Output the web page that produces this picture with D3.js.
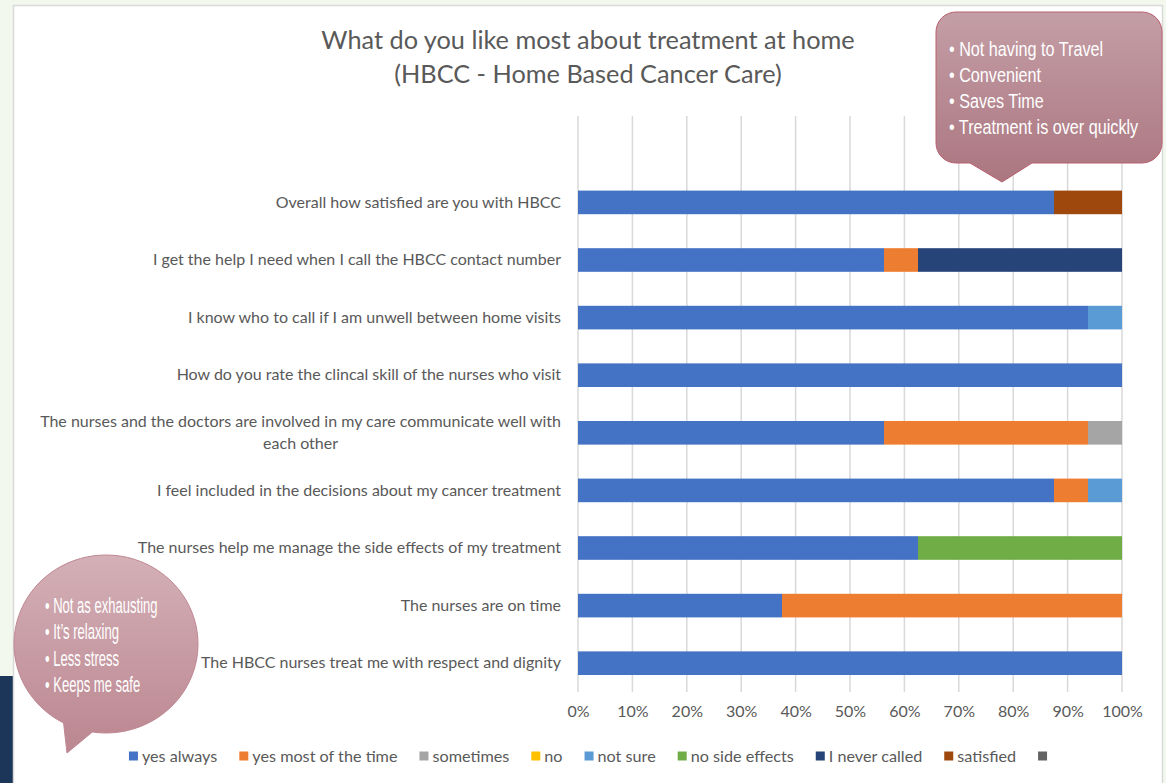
<!DOCTYPE html>
<html>
<head>
<meta charset="utf-8">
<script src="https://cdn.jsdelivr.net/npm/d3@7"></script>
<style>
  body { margin: 0; background: #f3f8ee; }
  svg { display: block; }
  text { font-family: Lato, "Open Sans", sans-serif; }
</style>
</head>
<body>
<svg width="1166" height="783"></svg>
<script>
const categories = [
  "Overall how satisfied are you with HBCC",
  "I get the help I need when I call the HBCC contact number",
  "I know who to call if I am unwell between home visits",
  "How do you rate the clincal skill of the nurses who visit",
  "The nurses and the doctors are involved in my care communicate well with each other",
  "I feel included in the decisions about my cancer treatment",
  "The nurses help me manage the side effects of my treatment",
  "The nurses are on time",
  "The HBCC nurses treat me with respect and dignity"
];
// percentages per category, top to bottom
const yesAlways     = [87.5, 56.25, 93.75, 100, 56.25, 87.5, 62.5, 37.5, 100];
const yesMost       = [0, 6.25, 0, 0, 37.5, 6.25, 0, 62.5, 0];
const sometimes     = [0, 0, 0, 0, 6.25, 0, 0, 0, 0];
const no            = [0, 0, 0, 0, 0, 0, 0, 0, 0];
const notSure       = [0, 0, 6.25, 0, 0, 6.25, 0, 0, 0];
const noSideEffects = [0, 0, 0, 0, 0, 0, 37.5, 0, 0];
const neverCalled   = [0, 37.5, 0, 0, 0, 0, 0, 0, 0];
const satisfied     = [12.5, 0, 0, 0, 0, 0, 0, 0, 0];
const unnamed       = [0, 0, 0, 0, 0, 0, 0, 0, 0];

const seriesNames = ["yes always", "yes most of the time", "sometimes", "no", "not sure",
  "no side effects", "I never called", "satisfied", ""];
const seriesValues = [yesAlways, yesMost, sometimes, no, notSure, noSideEffects, neverCalled, satisfied, unnamed];
const seriesColors = ["#4472c4", "#ed7d31", "#a5a5a5", "#ffc000", "#5b9bd5", "#70ad47", "#264478", "#9e480e", "#636363"];
const tickValues = [0, 10, 20, 30, 40, 50, 60, 70, 80, 90, 100];

const titleLines = ["What do you like most about treatment at home", "(HBCC - Home Based Cancer Care)"];
const calloutTop = ["Not having to Travel", "Convenient", "Saves Time", "Treatment is over quickly"];
const calloutBubble = ["Not as exhausting", "It\u2019s relaxing", "Less stress", "Keeps me safe"];

const svg = d3.select("svg");
const textColor = "#595959";

// page background pieces
svg.append("rect").attr("x", 0).attr("y", 0).attr("width", 1166).attr("height", 783).attr("fill", "#f3f8ee");
svg.append("rect").attr("x", 0).attr("y", 676).attr("width", 13).attr("height", 107).attr("fill", "#1b3658");
svg.append("rect").attr("x", 13.5).attr("y", 5.5).attr("width", 1149).attr("height", 800)
  .attr("fill", "#fff").attr("stroke", "#d9d9d9").attr("stroke-width", 1.5);

// build rows for the stack
const rows = categories.map((c, i) => {
  const r = { category: c };
  seriesNames.forEach((s, j) => r["s" + j] = seriesValues[j][i]);
  return r;
});
const keys = seriesNames.map((s, j) => "s" + j);
const stacked = d3.stack().keys(keys)(rows);

const x = d3.scaleLinear().domain([0, 100]).range([578, 1122]);
const y = d3.scaleBand().domain([" ", ...categories]).range([116, 692])
  .paddingInner(0.59).paddingOuter(0.295);

// gridlines
svg.append("g").selectAll("line")
  .data(tickValues)
  .join("line")
  .attr("x1", d => x(d)).attr("x2", d => x(d))
  .attr("y1", 116).attr("y2", 692)
  .attr("stroke", "#d9d9d9").attr("stroke-width", 1.5);

// bars
svg.append("g").selectAll("g")
  .data(stacked)
  .join("g")
  .attr("fill", (d, i) => seriesColors[i])
  .selectAll("rect")
  .data(d => d.filter(p => p[1] - p[0] > 0))
  .join("rect")
  .attr("x", d => x(d[0]))
  .attr("width", d => x(d[1]) - x(d[0]))
  .attr("y", d => y(d.data.category))
  .attr("height", y.bandwidth());

// x axis
const xAxis = svg.append("g")
  .attr("transform", "translate(0,703)")
  .call(d3.axisBottom(x).tickValues(tickValues).tickFormat(d => d + "%").tickSize(0));
xAxis.select(".domain").remove();
xAxis.selectAll("text").attr("fill", textColor).style("font-size", "16px")
  .style("font-family", "Lato, sans-serif");

// category labels
const labelRight = 561;
const labels = svg.append("g");
categories.forEach(c => {
  const lines = c.length > 60
    ? ["The nurses and the doctors are involved in my care communicate well with", "each other"]
    : [c];
  const cy = y(c) + y.bandwidth() / 2 - 0.5;
  const t = labels.append("text")
    .attr("fill", textColor).style("font-size", "16px");
  lines.forEach((ln, k) => {
    t.append("tspan").attr("x", labelRight)
      .attr("y", cy + (k - (lines.length - 1) / 2) * 22)
      .attr("dy", "0.35em").text(ln);
  });
  if (lines.length > 1) {
    const w = d3.max(t.selectAll("tspan").nodes(), n => n.getComputedTextLength());
    t.attr("text-anchor", "middle").selectAll("tspan").attr("x", labelRight - w / 2);
  } else {
    t.attr("text-anchor", "end");
  }
});

// title
svg.append("g").selectAll("text")
  .data(titleLines)
  .join("text")
  .attr("x", 588).attr("y", (d, i) => 40 + i * 34).attr("dy", "0.35em")
  .attr("text-anchor", "middle").attr("fill", textColor)
  .style("font-size", "25.3px").text(d => d);

// legend
const legend = svg.append("g").attr("transform", "translate(0,756)");
let lx = 0;
seriesNames.forEach((s, i) => {
  const item = legend.append("g").attr("transform", `translate(${lx},0)`);
  item.append("rect").attr("x", 0).attr("y", -4.5).attr("width", 9).attr("height", 9)
    .attr("fill", seriesColors[i]);
  const t = item.append("text").attr("x", 13).attr("dy", "0.35em")
    .attr("fill", textColor).style("font-size", "16.2px").text(s);
  lx += 13 + (s ? t.node().getComputedTextLength() : 0) + 22;
});
lx -= 22;
legend.attr("transform", `translate(${590 - lx / 2},756)`);

// gradients for callouts
const defs = svg.append("defs");
const g1 = defs.append("linearGradient").attr("id", "gTop").attr("x1", 0).attr("y1", 0).attr("x2", 0).attr("y2", 1);
g1.append("stop").attr("offset", "0%").attr("stop-color", "#c49ea6");
g1.append("stop").attr("offset", "100%").attr("stop-color", "#ab7680");
const g2 = defs.append("linearGradient").attr("id", "gBub").attr("x1", 0).attr("y1", 0).attr("x2", 0).attr("y2", 1);
g2.append("stop").attr("offset", "0%").attr("stop-color", "#d4b0b7");
g2.append("stop").attr("offset", "100%").attr("stop-color", "#bb8690");

// top-right callout (rounded rect with pointer)
const L = 936, R = 1162, T = 12, B = 163, rr = 20;
const p = d3.path();
p.moveTo(L + rr, T);
p.lineTo(R - rr, T);
p.arcTo(R, T, R, T + rr, rr);
p.lineTo(R, B - rr);
p.arcTo(R, B, R - rr, B, rr);
p.lineTo(1032, B);
p.lineTo(1002, 182);
p.lineTo(970, B);
p.lineTo(L + rr, B);
p.arcTo(L, B, L, B - rr, rr);
p.lineTo(L, T + rr);
p.arcTo(L, T, L + rr, T, rr);
p.closePath();
svg.append("path").attr("d", p.toString())
  .attr("fill", "url(#gTop)").attr("stroke", "#b9606f").attr("stroke-width", 1);
const topText = svg.append("g").attr("transform", "translate(949,0) scale(0.81,1)");
topText.selectAll("text")
  .data(calloutTop)
  .join("text")
  .attr("x", 0).attr("y", (d, i) => 56 + i * 26)
  .attr("fill", "#fff")
  .style("font-family", "'Liberation Sans', Arial, sans-serif")
  .style("font-size", "20px")
  .text(d => "\u2022 " + d);

// bottom-left speech bubble
const cx = 106, cyB = 644, rx = 92, ry = 89;
const a1 = 2.05, a2 = 1.72; // angles where tail leaves the ellipse
const bp = d3.path();
bp.moveTo(cx + rx * Math.cos(a2), cyB + ry * Math.sin(a2));
bp.lineTo(67, 753);
bp.lineTo(cx + rx * Math.cos(a1), cyB + ry * Math.sin(a1));
const steps = 80;
for (let k = 1; k <= steps; k++) {
  const a = a1 + (2 * Math.PI - (a1 - a2)) * k / steps;
  bp.lineTo(cx + rx * Math.cos(a), cyB + ry * Math.sin(a));
}
bp.closePath();
svg.append("path").attr("d", bp.toString())
  .attr("fill", "url(#gBub)").attr("stroke", "#c08792").attr("stroke-width", 1);
const bubText = svg.append("g").attr("transform", "translate(45,0) scale(0.58,1)");
bubText.selectAll("text")
  .data(calloutBubble)
  .join("text")
  .attr("x", 0).attr("y", (d, i) => 613 + i * 26.5)
  .attr("fill", "#fff")
  .style("font-family", "'Liberation Sans', Arial, sans-serif")
  .style("font-size", "22.5px")
  .text(d => "\u2022 " + d);
</script>
</body>
</html>
